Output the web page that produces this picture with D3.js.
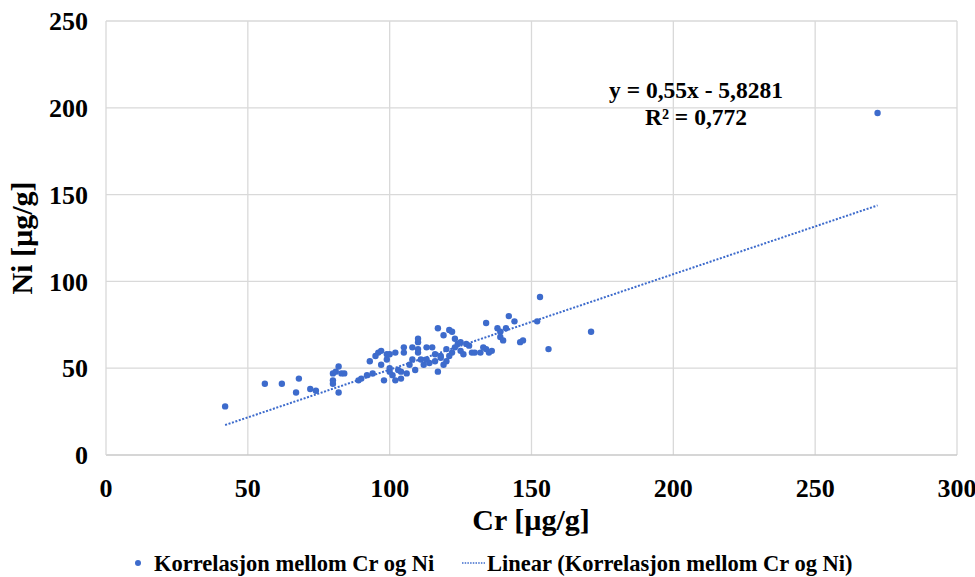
<!DOCTYPE html>
<html><head><meta charset="utf-8">
<script src="https://cdn.jsdelivr.net/npm/d3@7"></script>
<style>html,body{margin:0;padding:0;background:#fff;}</style>
</head><body>
<svg id="chart" width="975" height="577"></svg>
<script>
const crValues = [42,56,62,67,68,72,74,80,80,80,81,82,82,83,84,89,90,92,93,94,95,96,97,97,98,99,99,100,100,101,102,102,103,104,104,105,105,106,107,108,109,110,110,110,110,111,112,113,113,114,115,116,117,117,118,119,120,120,121,122,121,122,123,123,124,125,125,126,128,129,130,132,133,134,134,135,136,138,139,139,140,141,142,144,146,147,152,153,156,171,272,116,118,119,127,108,100];
const niValues = [28,41,41,36,44,38,37,43,41,47,48,36,51,47,47,43,44,46,54,47,57,59,60,52,43,58,55,58,50,46,59,43,49,48,44,62,59,47,52,55,49,67,65,61,59,55,52,62,55,53,62,54,73,48,57,69,61,54,72,71,57,59,67,62,64,65,60,58,63,59,59,59,62,76,61,59,60,73,71,68,66,73,80,77,65,66,77,91,61,71,197,58,56,52,64,62,48];
const xTicks = [0,50,100,150,200,250,300];
const yTicks = [0,50,100,150,200,250];
const slope = 0.55, intercept = -5.8281;
const eqLines = ["y = 0,55x - 5,8281", "R² = 0,772"];
const xTitle = "Cr [µg/g]", yTitle = "Ni [µg/g]";
const legendLabels = ["Korrelasjon mellom Cr og Ni", "Linear (Korrelasjon mellom Cr og Ni)"];

const blue = "#3d6bcc";
const font = "'Liberation Serif','Times New Roman',serif";
const svg = d3.select("#chart");
const x = d3.scaleLinear().domain([0,300]).range([106,957]);
const y = d3.scaleLinear().domain([0,250]).range([455,21]);

// gridlines
svg.append("g").selectAll("line").data(yTicks.filter(d=>d>0)).join("line")
  .attr("x1",x(0)).attr("x2",x(300)).attr("y1",d=>y(d)).attr("y2",d=>y(d))
  .attr("stroke","#d9d9d9").attr("stroke-width",1.3);
svg.append("g").selectAll("line").data(xTicks.filter(d=>d>0)).join("line")
  .attr("x1",d=>x(d)).attr("x2",d=>x(d)).attr("y1",y(0)).attr("y2",y(250))
  .attr("stroke","#d9d9d9").attr("stroke-width",1.3);
svg.append("line").attr("x1",x(0)).attr("x2",x(300)).attr("y1",y(0)).attr("y2",y(0)).attr("stroke","#c8c8c8").attr("stroke-width",1.5);
svg.append("line").attr("x1",x(0)).attr("x2",x(0)).attr("y1",y(0)).attr("y2",y(250)).attr("stroke","#d9d9d9").attr("stroke-width",1.3);

// tick labels
svg.append("g").selectAll("text").data(yTicks).join("text")
  .attr("x",88).attr("y",d=>y(d)).attr("dy","0.35em").attr("text-anchor","end")
  .attr("font-family",font).attr("font-weight","bold").attr("font-size",26).text(d=>d);
svg.append("g").selectAll("text").data(xTicks).join("text")
  .attr("x",d=>x(d)).attr("y",488).attr("dy","0.35em").attr("text-anchor","middle")
  .attr("font-family",font).attr("font-weight","bold").attr("font-size",26).text(d=>d);

// axis titles
svg.append("text").attr("x",531).attr("y",530).attr("text-anchor","middle")
  .attr("font-family",font).attr("font-weight","bold").attr("font-size",30).text(xTitle);
svg.append("text").attr("transform",`translate(32,${238}) rotate(-90)`).attr("text-anchor","middle")
  .attr("font-family",font).attr("font-weight","bold").attr("font-size",30).text(yTitle);

// trendline
const xmin = d3.min(crValues), xmax = d3.max(crValues);
svg.append("line").attr("x1",x(xmin)).attr("y1",y(slope*xmin+intercept))
  .attr("x2",x(xmax)).attr("y2",y(slope*xmax+intercept))
  .attr("stroke",blue).attr("stroke-width",2).attr("stroke-dasharray","2,1.6");

// points
svg.append("g").selectAll("circle").data(crValues.map((c,i)=>[c,niValues[i]])).join("circle")
  .attr("cx",d=>x(d[0])).attr("cy",d=>y(d[1])).attr("r",3.2).attr("fill",blue);

// equation
svg.append("g").selectAll("text").data(eqLines).join("text")
  .attr("x",696).attr("y",(d,i)=>90+i*27).attr("dy","0.35em").attr("text-anchor","middle")
  .attr("font-family",font).attr("font-weight","bold").attr("font-size",23.5).text(d=>d);

// legend
svg.append("circle").attr("cx",138).attr("cy",563).attr("r",3).attr("fill",blue);
svg.append("text").attr("x",154).attr("y",563).attr("dy","0.35em")
  .attr("font-family",font).attr("font-weight","bold").attr("font-size",22.5).text(legendLabels[0]);
svg.append("line").attr("x1",462).attr("x2",485).attr("y1",563).attr("y2",563)
  .attr("stroke",blue).attr("stroke-width",1.6).attr("stroke-dasharray","1.5,1.2");
svg.append("text").attr("x",487).attr("y",563).attr("dy","0.35em")
  .attr("font-family",font).attr("font-weight","bold").attr("font-size",22.5).text(legendLabels[1]);
</script>
</body></html>
